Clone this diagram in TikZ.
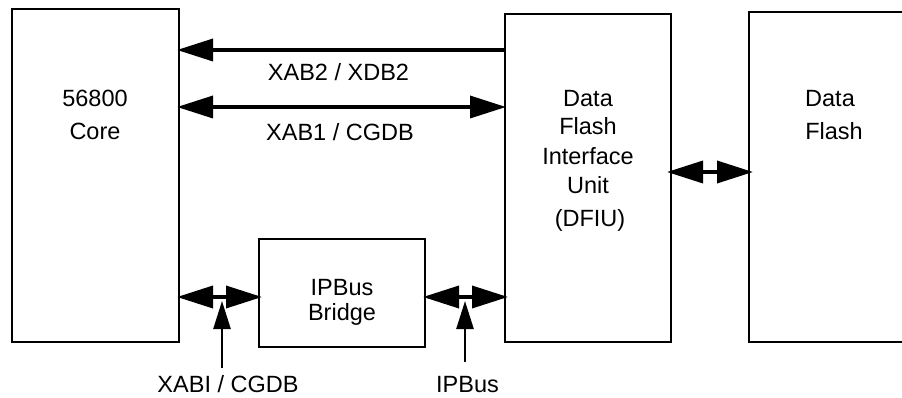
\documentclass[tikz,border=0pt]{standalone}
\usepackage{fontspec}
\setmainfont{Liberation Sans}
\usetikzlibrary{arrows.meta}

\tikzset{
  bighead/.tip={Triangle[length=36pt,width=22pt]},
  taphead/.tip={Triangle[length=28pt,width=17pt]}
}

\begin{document}
\begin{tikzpicture}[x=1pt,y=-1pt,
  block/.style={draw, line width=2pt, inner sep=0pt, outer sep=0pt},
  txt/.style={font=\fontsize{23.5}{28}\selectfont, inner sep=0pt, anchor=base},
  bus/.style={line width=3.5pt, bighead-bighead},
  onebus/.style={line width=3.5pt, -bighead},
  tap/.style={line width=2.5pt, -taphead}
]
% page
\path[fill=white] (0,0) rectangle (902,398);
\useasboundingbox (0,0) rectangle (902,398);

% blocks
\node[block, minimum width=167pt, minimum height=333pt] (core)   at (95.5,175.5) {};
\node[block, minimum width=166pt, minimum height=328pt] (dfiu)   at (588,178) {};
\node[block, minimum width=160pt, minimum height=330pt] (flash)  at (829,177) {};
\node[block, minimum width=166pt, minimum height=108pt] (bridge) at (342,293) {};

% block texts
\node[txt] (core-a) at (95,106.7) {56800};
\node[txt] (core-b) at (95,140) {Core};

\node[txt] (dfiu-a) at (588,106.7) {Data};
\node[txt] (dfiu-b) at (588,135) {Flash};
\node[txt] (dfiu-c) at (588,165) {Interface};
\node[txt] (dfiu-d) at (588,193.3) {Unit};
\node[txt] (dfiu-e) at (590,226.7) {(DFIU)};

\node[txt] (flash-a) at (830,106.7) {Data};
\node[txt] (flash-b) at (834,140) {Flash};

\node[txt] (bridge-a) at (342,295) {IPBus};
\node[txt] (bridge-b) at (342,320) {Bridge};

% bus rows
\coordinate (r1) at (0,50);
\coordinate (r2) at (0,107);
\coordinate (r3) at (0,172);
\coordinate (r4) at (0,297);

\draw[onebus, shorten >=-2pt] (dfiu.west |- r1) -- (core.east |- r1);
\draw[bus, shorten <=-2pt, shorten >=-1pt] (core.east |- r2) -- (dfiu.west |- r2);
\draw[bus, shorten <=-4pt, shorten >=-4pt] (dfiu.east |- r3) -- (flash.west |- r3);
\draw[bus, shorten <=-2pt, shorten >=-3pt] (core.east |- r4) -- (bridge.west |- r4);
\draw[bus, shorten <=-2pt, shorten >=-3pt] (bridge.east |- r4) -- (dfiu.west |- r4);

% bus labels
\node[txt] (l-xab2) at (338.5,81) {XAB2 / XDB2};
\node[txt] (l-xab1) at (340,141) {XAB1 / CGDB};

% taps onto the lower buses
\coordinate (t1a) at (222,368);
\coordinate (t1b) at (222,301);
\coordinate (t2a) at (465,362);
\coordinate (t2b) at (465,301);
\draw[tap] (t1a) -- (t1b);
\draw[tap] (t2a) -- (t2b);

\node[txt] (l-xabi) at (228,392.5) {XABI / CGDB};
\node[txt] (l-ipbus) at (467.5,392.5) {IPBus};
\end{tikzpicture}
\end{document}
